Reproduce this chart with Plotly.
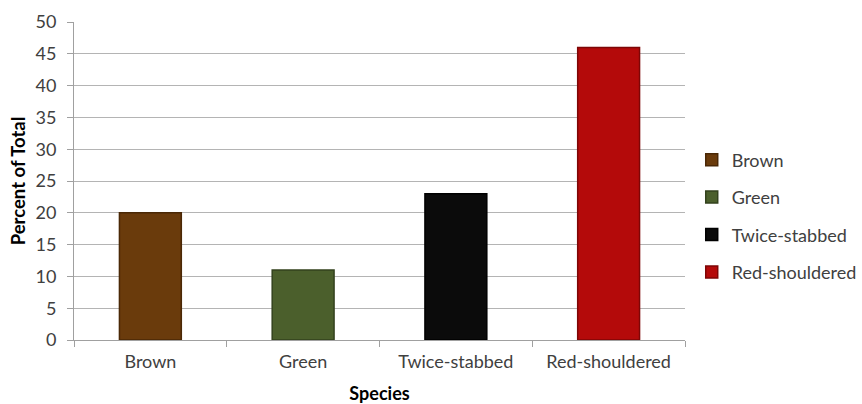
import plotly.graph_objects as go

species = ["Brown", "Green", "Twice-stabbed", "Red-shouldered"]
percent = [20, 11, 23, 46]
fills = ["#6a3b0c", "#4b5f2c", "#0b0b0b", "#b40a0a"]
edges = ["#4a2806", "#33421d", "#000000", "#7e0606"]
y_ticks = list(range(0, 55, 5))

FONT = "Lato"
TEXT = "#404040"

fig = go.Figure()
for name, val, fc, ec in zip(species, percent, fills, edges):
    fig.add_trace(go.Bar(
        x=[name], y=[val], name=name, legendgroup=name,
        marker=dict(color=fc, line=dict(color=ec, width=1.5)),
        width=0.405,
    ))

fig.update_layout(
    width=862, height=404,
    margin=dict(l=74, r=177, t=22, b=64, autoexpand=False),
    paper_bgcolor="white", plot_bgcolor="white",
    barmode="overlay",
    font=dict(family=FONT, size=18, color=TEXT),
    legend=dict(x=1.011, y=0.39, xanchor="left", yanchor="middle",
                tracegroupgap=11, font=dict(size=18, color=TEXT),
                itemwidth=30),
    xaxis=dict(
        categoryorder="array", categoryarray=species,
        showline=True, linecolor="#a0a0a0", linewidth=1,
        ticks="outside", ticklen=6, tickcolor="#a0a0a0", tickson="boundaries",
        showgrid=False, ticklabelstandoff=5,
        title=dict(text="<b>Species</b>", standoff=23,
                   font=dict(size=18, color="black")),
        tickfont=dict(size=18, color=TEXT),
    ),
    yaxis=dict(
        range=[0, 50], tickvals=y_ticks,
        showline=True, linecolor="#a0a0a0", linewidth=1,
        ticks="outside", ticklen=6, tickcolor="#a0a0a0",
        showgrid=True, gridcolor="#b4b4b4", gridwidth=1,
        zeroline=False, ticklabelstandoff=7,
        title=dict(text="<b>Percent of Total</b>", standoff=5,
                   font=dict(size=18.5, color="black")),
        tickfont=dict(size=18, color=TEXT),
    ),
)

fig.write_html("out.html")
